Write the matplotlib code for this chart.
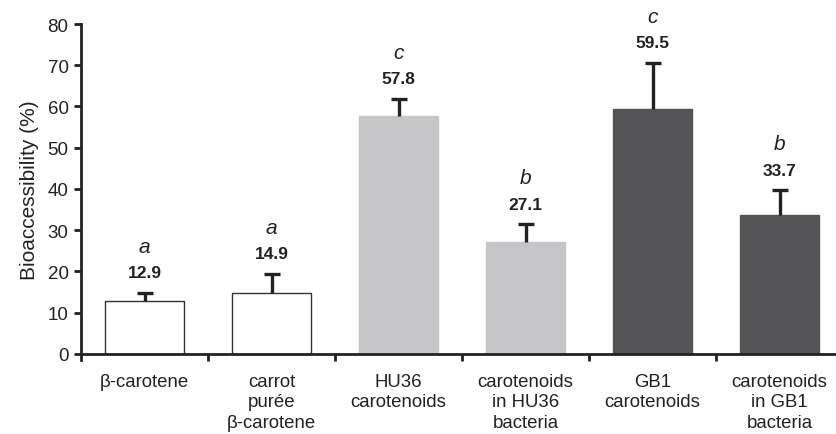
import matplotlib
matplotlib.use("Agg")
import matplotlib.pyplot as plt
import numpy as np

categories = ["\u03b2-carotene", "carrot\npur\u00e9e\n\u03b2-carotene", "HU36\ncarotenoids",
              "carotenoids\nin HU36\nbacteria", "GB1\ncarotenoids", "carotenoids\nin GB1\nbacteria"]
values = [12.9, 14.9, 57.8, 27.1, 59.5, 33.7]
errors = [1.9, 4.6, 4.1, 4.3, 11.1, 6.0]
letters = ["a", "a", "c", "b", "c", "b"]
colors = ["white", "white", "#c6c6c8", "#c6c6c8", "#545456", "#545456"]
edges = ["#333333", "#333333", "#c6c6c8", "#c6c6c8", "#545456", "#545456"]

plt.rcParams['font.family'] = ['Liberation Sans', 'DejaVu Sans']

fig = plt.figure(figsize=(8.36, 4.35), dpi=100)
ax = fig.add_axes([0.0969, 0.184, 0.9115, 0.7585])

x = np.arange(len(values))
vals = np.array(values)
errs = np.array(errors)
ax.bar(x, vals, width=0.62, color=colors, edgecolor=edges, linewidth=1.0, zorder=2)
ax.vlines(x, vals, vals + errs, colors='#222222', linewidth=2.4, zorder=3)
ax.plot(x, vals + errs, linestyle='none', marker='_', markersize=11, markeredgewidth=2.4,
        color='#222222', zorder=3)

for xi, v, e, l in zip(x, values, errors, letters):
    top = v + e
    ax.annotate(f"{v}", (xi, top), xytext=(0, 14.5), textcoords='offset points',
                ha='center', va='center', fontsize=12.5, fontweight='bold', color='#222222')
    ax.annotate(l, (xi, top), xytext=(0, 33.5), textcoords='offset points',
                ha='center', va='center', fontsize=15, fontstyle='italic', color='#222222')

ax.set_xlim(-0.5, len(values) - 0.5)
ax.set_ylim(0, 80)
ax.set_yticks(np.arange(0, 81, 10))
ax.set_xticks(np.arange(0.5, len(values) - 0.5, 1.0))
ax.set_xticklabels([])
ax.tick_params(axis='x', direction='out', length=5, width=2, color='#222222')
ax.tick_params(axis='y', direction='out', length=5, width=2, color='#222222', labelsize=13.5,
               labelcolor='#222222', pad=4)
for xi, c in zip(x, categories):
    ax.text(xi, -4.6, c, ha='center', va='top', fontsize=13.4, color='#222222', linespacing=1.27)

for s in ['top', 'right']:
    ax.spines[s].set_visible(False)
for s in ['left', 'bottom']:
    ax.spines[s].set_linewidth(2)
    ax.spines[s].set_color('#222222')
ax.spines['left'].set_bounds(-1.5, 80)

ax.set_ylabel("Bioaccessibility (%)", fontsize=15, color='#222222', labelpad=6)

fig.savefig("out.png", dpi=100)
